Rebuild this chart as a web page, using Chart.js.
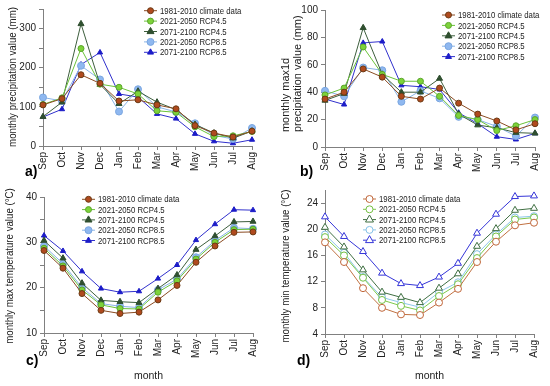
<!DOCTYPE html>
<html>
<head>
<meta charset="utf-8">
<script src="https://cdn.jsdelivr.net/npm/chart.js@4.4.0/dist/chart.umd.min.js"></script>
<style>
  body { margin: 0; background: #fff; }
  #wrap { position: relative; width: 550px; height: 386px; overflow: hidden; background: #fff; }
  .box { position: absolute; }
</style>
</head>
<body>
<div id="wrap">
  <div class="box" style="left:0;top:0;width:275px;height:192px"><canvas id="chartA"></canvas></div>
  <div class="box" style="left:275px;top:0;width:275px;height:192px"><canvas id="chartB"></canvas></div>
  <div class="box" style="left:0;top:185px;width:275px;height:201px"><canvas id="chartC"></canvas></div>
  <div class="box" style="left:275px;top:180px;width:275px;height:206px"><canvas id="chartD"></canvas></div>
</div>
<script>
"use strict";

var months = ['Sep', 'Oct', 'Nov', 'Dec', 'Jan', 'Feb', 'Mar', 'Apr', 'May', 'Jun', 'Jul', 'Aug'];
var seriesNames = ['1981-2010 climate data', '2021-2050 RCP4.5', '2071-2100 RCP4.5', '2021-2050 RCP8.5', '2071-2100 RCP8.5'];

// a) monthly precipitation (mm)
var precipBase    = [105, 121, 182, 160, 115, 118, 105, 95, 52, 33, 23, 38];
var precip45_2050 = [106, 123, 249, 158, 150, 133, 90, 86, 49, 24, 26, 37];
var precip45_2100 = [75, 112, 312, 157, 108, 140, 112, 93, 55, 33, 20, 38];
var precip85_2050 = [124, 115, 205, 170, 88, 145, 100, 87, 58, 27, 18, 46];
var precip85_2100 = [74, 94, 208, 239, 133, 125, 82, 70, 31, 12, 7, 16];

// b) monthly max1d precipitation (mm)
var max1dBase    = [35, 40, 57, 51, 37, 35, 43, 32, 24, 19, 12.5, 17];
var max1d45_2050 = [38, 43, 73, 53, 48, 48, 37, 23, 20, 12, 15.5, 20];
var max1d45_2100 = [34, 39, 87, 53, 40, 40, 50, 24, 16, 14, 10.5, 10];
var max1d85_2050 = [41, 37, 58, 56, 33, 41, 35.5, 22, 20, 15, 8, 21.5];
var max1d85_2100 = [35, 31, 76, 77, 45, 44, 42, 25, 17, 7.5, 5.5, 10];

// c) monthly max temperature (°C)
var tmaxBase    = [28.2, 24.3, 18.7, 15.0, 14.3, 14.6, 17.3, 20.5, 25.6, 29.2, 32.2, 32.3];
var tmax45_2050 = [28.7, 24.8, 19.5, 16.2, 15.4, 15.3, 19.0, 21.5, 26.3, 30.0, 32.8, 32.9];
var tmax45_2100 = [30.4, 26.5, 21.0, 17.2, 16.9, 16.7, 19.8, 22.8, 28.4, 31.4, 34.5, 34.6];
var tmax85_2050 = [29.2, 25.3, 20.0, 16.5, 15.9, 15.6, 19.5, 21.9, 26.7, 30.4, 33.2, 33.0];
var tmax85_2100 = [31.5, 28.1, 23.6, 19.8, 19.0, 19.2, 22.0, 25.0, 30.5, 34.0, 37.2, 37.1];

// d) monthly min temperature (°C)
var tminBase    = [18.0, 15.0, 11.0, 8.0, 7.0, 6.9, 8.8, 10.9, 15.0, 18.1, 20.6, 21.0];
var tmin45_2050 = [18.8, 16.0, 12.6, 9.2, 8.3, 7.6, 9.8, 11.6, 15.6, 18.9, 21.5, 21.8];
var tmin45_2100 = [20.3, 17.3, 13.8, 10.4, 9.6, 8.8, 11.0, 13.2, 17.4, 20.1, 22.9, 23.2];
var tmin85_2050 = [19.2, 16.4, 12.7, 9.6, 8.8, 8.1, 10.4, 11.9, 16.2, 19.2, 21.8, 22.0];
var tmin85_2100 = [21.9, 18.9, 16.6, 13.3, 11.7, 11.4, 12.7, 14.8, 19.4, 22.3, 25.0, 25.1];

var FONT = "'Liberation Sans', Arial, sans-serif";
var AXIS = '#808080';
var TEXT = '#222';

var solidStyles = [
  {line: '#8a4b22', fill: '#b04a1e', edge: '#6b3a14', shape: 'circle', r: 3},
  {line: '#6ac23a', fill: '#7dd33a', edge: '#5aa52a', shape: 'circle', r: 3},
  {line: '#3d5e3d', fill: '#2f4f2f', edge: '#2f4f2f', shape: 'triangle', r: 3.5},
  {line: '#8ab4e6', fill: '#8fb8f0', edge: '#7aa6e0', shape: 'circle', r: 3.5},
  {line: '#3030cc', fill: '#1c1cc8', edge: '#1c1cc8', shape: 'triangle', r: 3}
];
var openStyles = [
  {line: '#c07040', fill: '#ffffff', edge: '#c0663a', shape: 'circle', r: 3.5},
  {line: '#7cc94a', fill: '#ffffff', edge: '#74c043', shape: 'circle', r: 3.5},
  {line: '#3f6f42', fill: '#ffffff', edge: '#3f6f42', shape: 'triangle', r: 4},
  {line: '#8cc8e8', fill: '#ffffff', edge: '#84c0e6', shape: 'circle', r: 3.5},
  {line: '#3535d8', fill: '#ffffff', edge: '#3535d8', shape: 'triangle', r: 4}
];

function makeDatasets(series, styles) {
  return series.map(function (vals, i) {
    var st = styles[i];
    return {
      label: seriesNames[i],
      data: vals,
      borderColor: st.line,
      borderWidth: 1,
      pointStyle: st.shape,
      pointRadius: st.r,
      pointBackgroundColor: st.fill,
      pointBorderColor: st.edge,
      pointBorderWidth: 1,
      tension: 0,
      clip: false
    };
  });
}

function drawMarker(ctx, shape, x, y, r) {
  ctx.beginPath();
  if (shape === 'triangle') {
    ctx.moveTo(x, y - r * 1.15);
    ctx.lineTo(x + r, y + r * 0.6);
    ctx.lineTo(x - r, y + r * 0.6);
    ctx.closePath();
  } else {
    ctx.arc(x, y, r, 0, Math.PI * 2);
  }
  ctx.fill();
  ctx.stroke();
}

// legend, panel letter and y titles drawn straight on the canvas
// (text squeezed a bit sideways, the original uses a narrow face)
var panelExtras = {
  id: 'panelExtras',
  afterDraw: function (chart, args, opts) {
    var ctx = chart.ctx;
    ctx.save();
    if (opts.legend) {
      var lg = opts.legend;
      ctx.font = '9.5px ' + FONT;
      ctx.textBaseline = 'middle';
      ctx.textAlign = 'left';
      chart.data.datasets.forEach(function (ds, i) {
        var y = lg.y + i * lg.dy;
        ctx.strokeStyle = ds.borderColor;
        ctx.lineWidth = 1;
        ctx.beginPath();
        ctx.moveTo(lg.x, y);
        ctx.lineTo(lg.x + 13, y);
        ctx.stroke();
        ctx.fillStyle = ds.pointBackgroundColor;
        ctx.strokeStyle = ds.pointBorderColor;
        drawMarker(ctx, ds.pointStyle, lg.x + 6.5, y, ds.pointRadius);
        ctx.fillStyle = TEXT;
        ctx.save();
        ctx.translate(lg.x + 16, y + 0.5);
        ctx.scale(0.82, 1);
        ctx.fillText(ds.label, 0, 0);
        ctx.restore();
      });
    }
    if (opts.letter) {
      ctx.font = 'bold 14px ' + FONT;
      ctx.fillStyle = '#000';
      ctx.textAlign = 'left';
      ctx.textBaseline = 'middle';
      ctx.fillText(opts.letter.text, opts.letter.x, opts.letter.y);
    }
    if (opts.sideTitle) {
      var st = opts.sideTitle;
      ctx.font = st.size + 'px ' + FONT;
      ctx.fillStyle = TEXT;
      ctx.textAlign = st.align;
      ctx.textBaseline = 'middle';
      st.lines.forEach(function (txt, i) {
        ctx.save();
        ctx.translate(st.x + i * st.dx, st.y);
        ctx.rotate(-Math.PI / 2);
        ctx.scale(st.sx, 1);
        ctx.fillText(txt, 0, 0);
        ctx.restore();
      });
    }
    ctx.restore();
  }
};

function buildPanel(canvasId, cfg) {
  var ctx = document.getElementById(canvasId).getContext('2d');
  return new Chart(ctx, {
    type: 'line',
    data: {
      labels: months,
      datasets: makeDatasets(cfg.series, cfg.styles)
    },
    options: {
      responsive: true,
      maintainAspectRatio: false,
      animation: false,
      layout: {padding: {top: cfg.padTop, right: cfg.padRight, left: 0, bottom: 0}},
      plugins: {
        legend: {display: false},
        tooltip: {enabled: false},
        panelExtras: {legend: cfg.legend, letter: cfg.letter, sideTitle: cfg.sideTitle}
      },
      scales: {
        x: {
          type: 'category',
          offset: false,
          grid: {display: true, drawOnChartArea: false, drawTicks: true, tickLength: 4, color: AXIS},
          border: {display: true, color: AXIS, width: 1},
          ticks: {autoSkip: false, minRotation: 90, maxRotation: 90, padding: 2, color: TEXT,
                  font: {family: FONT, size: 10}},
          title: {display: !!cfg.xTitle, text: cfg.xTitle || '', color: TEXT,
                  font: {family: FONT, size: 10.5}, padding: {top: 0, bottom: 3.7}},
          afterFit: function (s) { s.height = cfg.xHeight; }
        },
        y: {
          min: cfg.min,
          max: cfg.max,
          grid: {display: true, drawOnChartArea: false, drawTicks: true, tickLength: 4, color: AXIS},
          border: {display: true, color: AXIS, width: 1},
          ticks: {
            stepSize: cfg.step,
            padding: 3,
            color: TEXT,
            font: {family: FONT, size: 10},
            callback: function (v) {
              return (Math.abs(v % cfg.labelEvery) < 1e-6 && v <= cfg.labelMax) ? v : '';
            }
          },
          afterFit: function (s) { s.width = cfg.yWidth; }
        }
      }
    },
    plugins: [panelExtras]
  });
}

buildPanel('chartA', {
  series: [precipBase, precip45_2050, precip45_2100, precip85_2050, precip85_2100],
  styles: solidStyles,
  min: 0, max: 350, step: 50, labelEvery: 100, labelMax: 300,
  padTop: 8, padRight: 23, yWidth: 43, xHeight: 46,
  sideTitle: {lines: ['monthly precipitation value (mm)'], x: 13, dx: 0, y: 77, align: 'center', size: 11, sx: 0.88},
  legend: {x: 144, y: 10.7, dy: 10.4},
  letter: {text: 'a)', x: 25, y: 172}
});

buildPanel('chartB', {
  series: [max1dBase, max1d45_2050, max1d45_2100, max1d85_2050, max1d85_2100],
  styles: solidStyles,
  min: 0, max: 100, step: 10, labelEvery: 20, labelMax: 100,
  padTop: 10, padRight: 15, yWidth: 50, xHeight: 45,
  sideTitle: {lines: ['monthly max1d', 'precipitation value (mm)'], x: 10.5, dx: 12.5, y: 132, align: 'left', size: 11.5, sx: 0.95},
  legend: {x: 167, y: 15, dy: 10.4},
  letter: {text: 'b)', x: 25, y: 172}
});

buildPanel('chartC', {
  series: [tmaxBase, tmax45_2050, tmax45_2100, tmax85_2050, tmax85_2100],
  styles: solidStyles,
  min: 10, max: 40, step: 5, labelEvery: 10, labelMax: 40,
  padTop: 12, padRight: 22, yWidth: 44, xHeight: 53,
  sideTitle: {lines: ['monthly max temperature value (°C)'], x: 10, dx: 0, y: 81, align: 'center', size: 11, sx: 0.88},
  xTitle: 'month',
  legend: {x: 82, y: 14.3, dy: 10.3},
  letter: {text: 'c)', x: 26, y: 176}
});

buildPanel('chartD', {
  series: [tminBase, tmin45_2050, tmin45_2100, tmin85_2050, tmin85_2100],
  styles: openStyles,
  min: 4, max: 26, step: 2, labelEvery: 4, labelMax: 24,
  padTop: 10, padRight: 16, yWidth: 50, xHeight: 52,
  sideTitle: {lines: ['monthly min temperature value (°C)'], x: 10.5, dx: 0, y: 86, align: 'center', size: 11, sx: 0.88},
  xTitle: 'month',
  legend: {x: 88, y: 19, dy: 10.3},
  letter: {text: 'd)', x: 22, y: 181}
});
</script>
</body>
</html>
